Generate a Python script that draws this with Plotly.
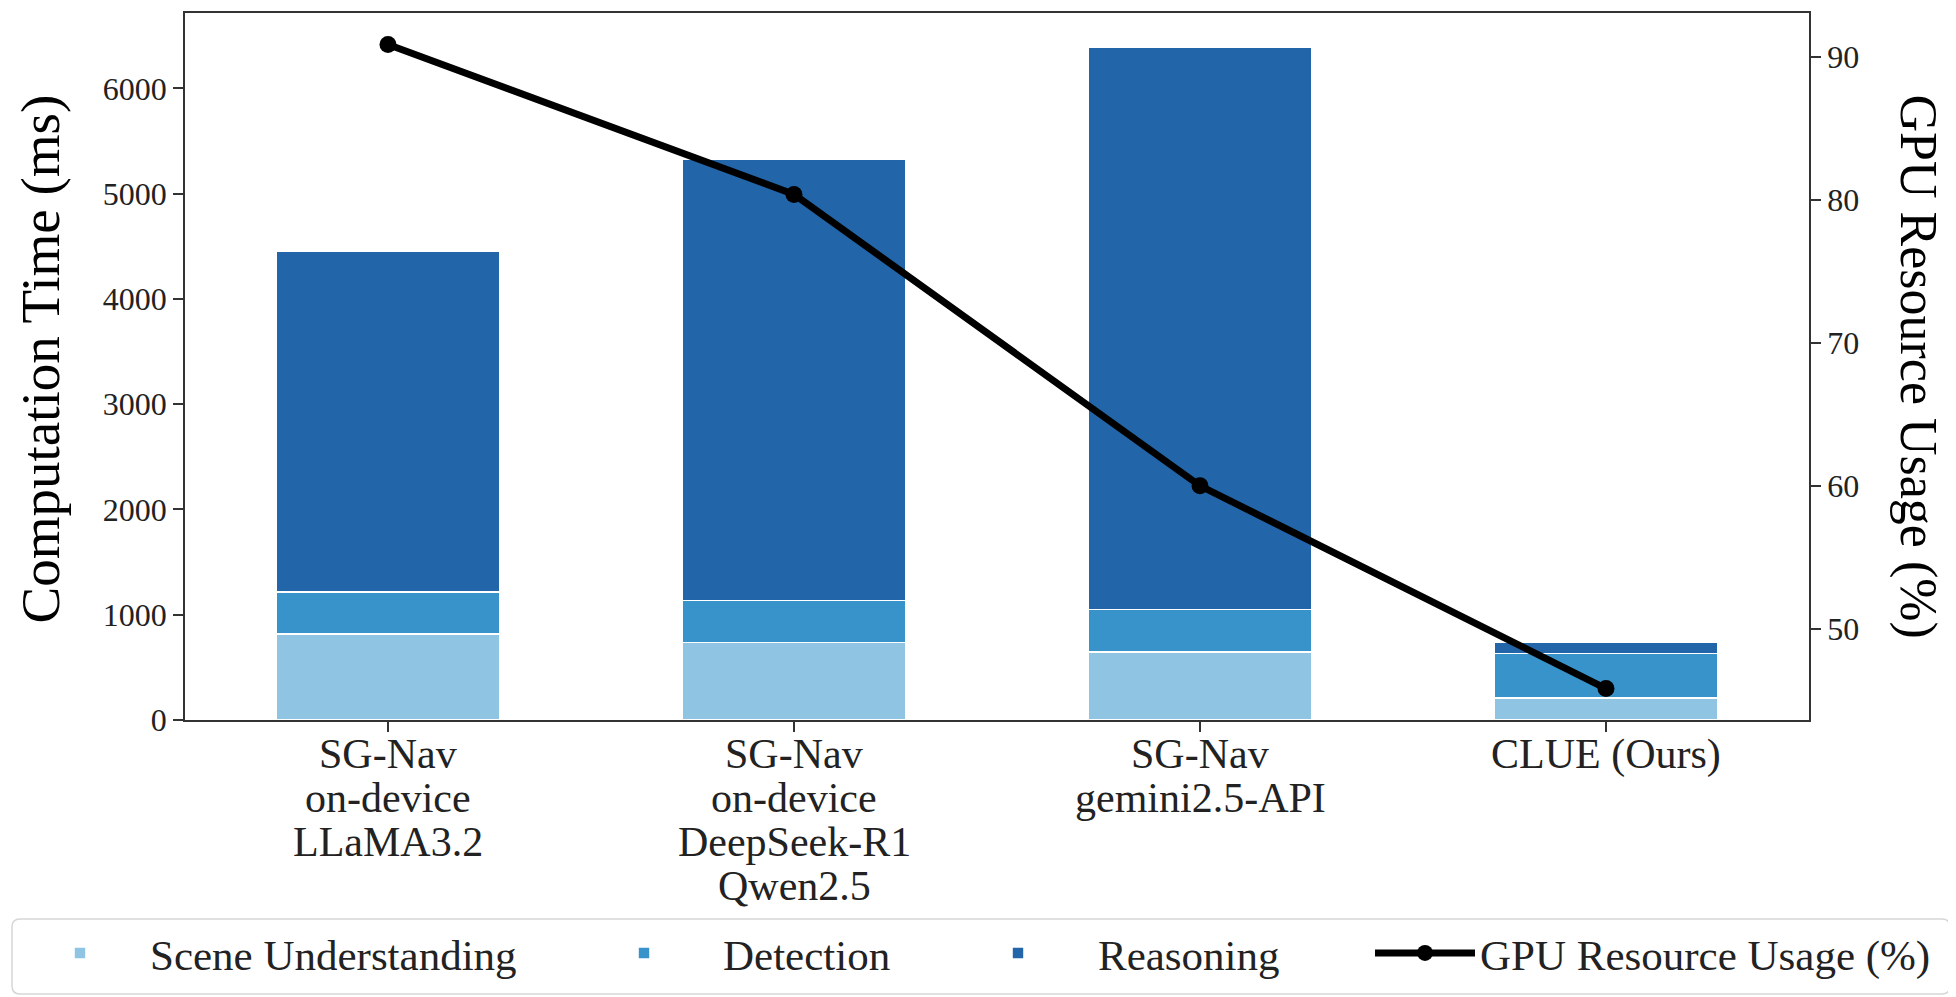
import plotly.graph_objects as go

# ---- data ----
categories = [
    "SG-Nav<br>on-device<br>LLaMA3.2",
    "SG-Nav<br>on-device<br>DeepSeek-R1<br>Qwen2.5",
    "SG-Nav<br>gemini2.5-API",
    "CLUE (Ours)",
]
positions = [0, 1, 2, 3]
scene_understanding = [815, 735, 645, 210]
detection = [400, 400, 405, 420]
reasoning = [3235, 4190, 5345, 110]
gpu_usage = [90.9, 80.4, 60.0, 45.8]

left_ticks = [0, 1000, 2000, 3000, 4000, 5000, 6000]
right_ticks = [50, 60, 70, 80, 90]

# ---- styling ----
FONT = "Liberation Serif"
C_SCENE = "#8fc4e3"
C_DET = "#3993cb"
C_REA = "#2266a9"
AX = "#333333"
TXT = "#222222"

# page body has an 8px offset; plot area spans abs x 185..1809, y 13..720
W, H = 1948, 989
ML, MR, MT, MB = 177, 147, 5, 277
PW = W - ML - MR
PH = H - MT - MB


def px(abs_x):
    return (abs_x - 185) / PW


def py(abs_y):
    return (720 - abs_y) / PH


fig = go.Figure()
bar_line = dict(color="white", width=1.6)
fig.add_trace(go.Bar(x=positions, y=scene_understanding, name="Scene Understanding",
                     width=0.55, marker=dict(color=C_SCENE, line=bar_line),
                     legend="legend"))
fig.add_trace(go.Bar(x=positions, y=detection, name="Detection",
                     width=0.55, marker=dict(color=C_DET, line=bar_line),
                     legend="legend2"))
fig.add_trace(go.Bar(x=positions, y=reasoning, name="Reasoning",
                     width=0.55, marker=dict(color=C_REA, line=bar_line),
                     legend="legend3"))
fig.add_trace(go.Scatter(x=positions, y=gpu_usage, yaxis="y2", mode="lines+markers",
                         name="GPU Resource Usage (%)",
                         line=dict(color="black", width=7),
                         marker=dict(color="black", size=17),
                         legend="legend4"))

leg_font = dict(family=FONT, size=43, color=TXT)
leg_y = py(953)


def leg(abs_x, iw):
    return dict(orientation="h", x=px(abs_x), xanchor="left", y=leg_y, yanchor="middle",
                font=leg_font, bgcolor="rgba(0,0,0,0)", borderwidth=0, itemwidth=iw)


# category labels, one annotation per line (tighter line spacing than ticktext)
label_annotations = []
line_gap = 44
for pos, label in zip(positions, categories):
    for i, line in enumerate(label.split("<br>")):
        label_annotations.append(dict(
            text=line, x=pos, xref="x", y=0, yref="paper",
            xanchor="center", yanchor="middle", yshift=-(34 + i * line_gap),
            showarrow=False, font=dict(family=FONT, size=42, color=TXT)))

# rounded legend frame
bx0, bx1, by0, by1 = px(12), px(1950), py(994), py(919)
rx, ry = 8 / PW, 8 / PH
frame_path = (
    f"M{bx0 + rx},{by1} L{bx1 - rx},{by1} Q{bx1},{by1} {bx1},{by1 - ry} "
    f"L{bx1},{by0 + ry} Q{bx1},{by0} {bx1 - rx},{by0} "
    f"L{bx0 + rx},{by0} Q{bx0},{by0} {bx0},{by0 + ry} "
    f"L{bx0},{by1 - ry} Q{bx0},{by1} {bx0 + rx},{by1} Z"
)

fig.update_layout(
    width=W, height=H,
    margin=dict(l=ML, r=MR, t=MT, b=MB, autoexpand=False),
    barmode="stack",
    plot_bgcolor="white", paper_bgcolor="white",
    font=dict(family=FONT, color=TXT),
    showlegend=True,
    legend=leg(10, 130),
    legend2=leg(565, 148),
    legend3=leg(938, 150),
    legend4=leg(1370, 100),
    xaxis=dict(
        range=[-0.5, 3.5], tickmode="array", tickvals=positions, showticklabels=False,
        showline=True, linecolor=AX, linewidth=1.5, mirror=True,
        ticks="outside", ticklen=10, tickwidth=1.5, tickcolor=AX,
        showgrid=False, zeroline=False,
    ),
    yaxis=dict(
        range=[0, 6717], tickmode="array", tickvals=left_ticks,
        showline=True, linecolor=AX, linewidth=1.5,
        ticks="outside", ticklen=10, tickwidth=1.5, tickcolor=AX,
        showgrid=False, zeroline=False,
        tickfont=dict(family=FONT, size=32, color=TXT),
    ),
    yaxis2=dict(
        overlaying="y", side="right", range=[43.6, 93.1],
        tickmode="array", tickvals=right_ticks,
        showline=True, linecolor=AX, linewidth=1.5,
        ticks="outside", ticklen=10, tickwidth=1.5, tickcolor=AX,
        showgrid=False, zeroline=False,
        tickfont=dict(family=FONT, size=32, color=TXT),
    ),
    shapes=[
        dict(type="path", xref="paper", yref="paper", path=frame_path,
             line=dict(color="#d6d6d6", width=1.5), fillcolor="rgba(0,0,0,0)",
             layer="below"),
    ],
    annotations=[
        dict(text="Computation Time (ms)", xref="paper", yref="paper",
             x=px(40), y=0.51, xanchor="center", yanchor="middle",
             textangle=-90, showarrow=False,
             font=dict(family=FONT, size=55, color="black")),
        dict(text="GPU Resource Usage (%)", xref="paper", yref="paper",
             x=px(1918), y=0.5, xanchor="center", yanchor="middle",
             textangle=90, showarrow=False,
             font=dict(family=FONT, size=52, color="black")),
    ] + label_annotations,
)

fig.write_html("out.html")
